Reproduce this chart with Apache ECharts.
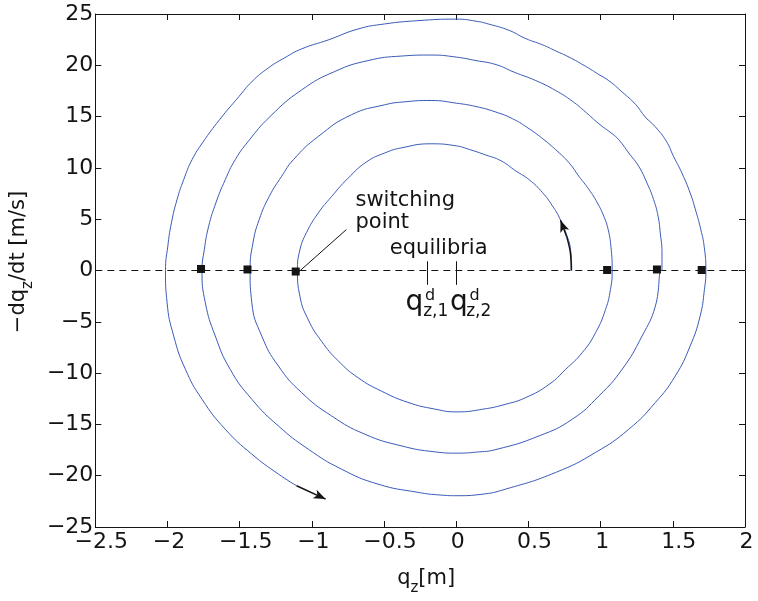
<!DOCTYPE html>
<html>
<head>
<meta charset="utf-8">
<script src="https://cdn.jsdelivr.net/npm/echarts@6/dist/echarts.min.js"></script>
<style>
  html, body { margin: 0; padding: 0; background: #ffffff; }
  #chart { width: 758px; height: 601px; }
</style>
</head>
<body>
<div id="chart"></div>
<script>
// Axis ticks
const xTicks = [-2.5, -2, -1.5, -1, -0.5, 0, 0.5, 1, 1.5, 2];
const yTicks = [-25, -20, -15, -10, -5, 0, 5, 10, 15, 20, 25];

// Phase trajectory, half-orbit by half-orbit: [q_z, -dq_z/dt]
// upper arcs run right -> left, lower arcs run left -> right
const upper1 = [
  [0.80, 0.0], [0.792, 2.0], [0.769, 3.3], [0.716, 5.1], [0.666, 6.3], [0.597, 7.6],
  [0.505, 8.85], [0.413, 9.7], [0.309, 10.7], [0.206, 11.25], [0.09, 11.8], [0.0, 12.15],
  [-0.174, 12.35], [-0.381, 11.95], [-0.496, 11.45], [-0.62, 10.6], [-0.749, 9.0],
  [-0.864, 7.2], [-0.956, 5.6], [-1.037, 3.7], [-1.083, 2.0], [-1.10, 0.0]
];
const lower1 = [
  [-1.10, 0.0], [-1.083, -2.5], [-1.025, -4.8], [-0.933, -6.9], [-0.818, -8.8],
  [-0.68, -10.45], [-0.519, -11.75], [-0.335, -12.85], [-0.151, -13.5], [0.006, -13.78],
  [0.183, -13.52], [0.344, -13.03], [0.482, -12.38], [0.643, -11.1], [0.758, -9.63],
  [0.873, -8.0], [0.965, -6.06], [1.034, -3.8], [1.068, -1.85], [1.08, 0.0]
];
const upper2 = [
  [1.08, 0.0], [1.071, 2.36], [1.052, 4.0], [1.022, 5.28], [0.977, 6.6], [0.919, 7.9],
  [0.85, 9.17], [0.781, 10.5], [0.689, 11.77], [0.608, 12.74], [0.505, 13.81], [0.39, 14.79],
  [0.275, 15.44], [0.137, 15.98], [0.0, 16.31], [-0.174, 16.57], [-0.35, 16.45], [-0.496, 16.15],
  [-0.726, 15.18], [-0.956, 13.06], [-1.128, 10.8], [-1.21, 9.17], [-1.295, 7.23],
  [-1.365, 4.96], [-1.408, 2.69], [-1.428, 0.0]
];
const lower2 = [
  [-1.428, 0.0], [-1.416, -3.14], [-1.347, -6.39], [-1.232, -9.31], [-1.071, -11.9],
  [-0.864, -14.17], [-0.634, -15.95], [-0.381, -17.09], [-0.151, -17.67], [0.006, -17.8],
  [0.14, -17.7], [0.275, -17.45], [0.574, -16.12], [0.804, -14.49], [0.988, -12.23], [1.149, -9.63],
  [1.287, -6.39], [1.379, -3.47], [1.42, 0.0]
];
const upper3 = [
  [1.425, 0.0], [1.425, 1.72], [1.413, 3.67], [1.398, 5.28], [1.367, 6.91], [1.321, 8.53],
  [1.264, 10.15], [1.195, 11.45], [1.126, 12.74], [1.08, 13.33], [0.988, 14.3], [0.896, 15.44],
  [0.804, 16.5], [0.689, 17.54], [0.551, 18.51], [0.401, 19.33], [0.275, 20.07], [0.137, 20.46],
  [0.0, 20.8], [-0.174, 21.0], [-0.381, 20.9], [-0.611, 20.46], [-0.841, 19.4], [-1.071, 17.6],
  [-1.29, 15.0], [-1.44, 12.6], [-1.531, 10.8], [-1.6, 8.85], [-1.665, 6.59],
  [-1.715, 4.31], [-1.745, 2.04], [-1.761, 0.0]
];
const lower3 = [
  [-1.761, 0.0], [-1.738, -3.14], [-1.669, -6.39], [-1.566, -9.63], [-1.416, -12.55],
  [-1.232, -15.15], [-1.025, -17.41], [-0.795, -19.36], [-0.542, -20.82], [-0.266, -21.62],
  [-0.105, -21.89], [0.006, -21.95], [0.171, -21.82], [0.344, -21.3], [0.689, -19.68],
  [0.965, -17.73], [1.195, -15.47], [1.379, -12.87], [1.517, -10.28], [1.62, -7.36],
  [1.689, -4.45], [1.719, -1.85], [1.729, 0.0]
];
const upper4 = [
  [1.729, 0.0], [1.717, 2.36], [1.694, 3.99], [1.66, 5.77], [1.62, 7.56], [1.563, 9.5],
  [1.505, 11.12], [1.455, 12.6], [1.379, 14.0], [1.31, 14.95], [1.241, 16.2], [1.149, 17.4],
  [1.057, 18.5], [0.988, 19.1], [0.896, 19.9], [0.781, 20.8], [0.689, 21.4], [0.597, 22.0],
  [0.482, 22.6], [0.367, 23.4], [0.229, 24.0], [0.137, 24.3], [0.0, 24.5], [-0.266, 24.35],
  [-0.496, 24.03], [-0.68, 23.54], [-0.887, 22.47], [-1.071, 21.6], [-1.186, 20.75],
  [-1.301, 19.75], [-1.416, 18.4], [-1.505, 16.96], [-1.64, 14.69], [-1.755, 12.5],
  [-1.83, 10.8], [-1.888, 8.85], [-1.934, 6.91], [-1.973, 4.64], [-1.998, 2.36], [-2.014, 0.0]
];
const lower4 = [
  [-2.014, 0.0], [-2.003, -3.14], [-1.957, -6.39], [-1.876, -9.63], [-1.761, -12.55],
  [-1.6, -15.47], [-1.416, -17.9], [-1.232, -19.84], [-1.106, -20.98]
];

// Switching points on the q_z axis
const switchingPoints = [
  [-1.112, -0.1], [-1.446, 0.1], [-1.768, 0.15], [1.045, 0.05], [1.39, 0.1], [1.70, 0.05]
];
// Equilibria q^d_{z,1}, q^d_{z,2}
const equilibria = [-0.2, 0.0];

// Direction arrows: shaft points and head segment
const startArrowShaft = [[0.797, 0.0], [0.79, 1.8], [0.765, 3.3]];
const startArrowHead = [[0.765, 3.3], [0.722, 4.9]];
const endArrow = [[-1.106, -20.98], [-0.905, -22.28]];

// Leader line from the "switching point" note to its marker
const leader = [[-0.761, 3.99], [-1.094, -0.17]];

const trajectory = [].concat(upper1, lower1, upper2, lower2, upper3, lower3, upper4, lower4);

const FONT = '"DejaVu Sans", "Liberation Sans", Arial, sans-serif';
const INK = '#141414';
const BLUE = '#3a5bb8';

const minus = v => (v < 0 ? '\u2212' + (-v) : String(v));

const axisLineStyle = { color: INK, width: 1 };

// rich styles for names with a lowered subscript
const nameRich = {
  n: { fontFamily: FONT, fontSize: 21, color: INK, lineHeight: 21, verticalAlign: 'top' },
  s: { fontFamily: FONT, fontSize: 15, color: INK, lineHeight: 28, verticalAlign: 'bottom' }
};

const chart = echarts.init(document.getElementById('chart'), null, { renderer: 'canvas' });

const textItem = (pos, text, opts) => ({
  value: pos,
  label: Object.assign({
    show: true,
    position: [0, 0],
    formatter: text,
    fontFamily: FONT,
    color: INK,
    textBorderWidth: 0
  }, opts)
});

const eqTextItems = [];
const eqIdx = ['1', '2'];
const qOffsets = [
  { q: -13, d: 2.8, s: -4.2 },
  { q: 2.7, d: 18.2, s: 9.9 }
];
equilibria.forEach((e, i) => {
  const o = qOffsets[i];
  eqTextItems.push(textItem([e, 0], 'q', { fontSize: 28, align: 'center', verticalAlign: 'middle', offset: [o.q, 32] }));
  eqTextItems.push(textItem([e, 0], 'd', { fontSize: 16, align: 'center', verticalAlign: 'middle', offset: [o.d, 25.5] }));
  eqTextItems.push(textItem([e, 0], 'z,' + eqIdx[i], { fontSize: 17, align: 'left', verticalAlign: 'middle', offset: [o.s, 41.5] }));
});

const option = {
  animation: false,
  backgroundColor: '#ffffff',
  grid: { left: 93, right: 13, top: 14, bottom: 73, containLabel: false },
  xAxis: [
    {
      type: 'value',
      position: 'bottom',
      min: xTicks[0],
      max: xTicks[xTicks.length - 1],
      interval: xTicks[1] - xTicks[0],
      axisLine: { show: true, onZero: false, lineStyle: axisLineStyle },
      axisTick: { show: true, inside: true, length: 6, lineStyle: axisLineStyle },
      splitLine: { show: false },
      axisLabel: {
        margin: 4,
        formatter: v => (Number.isInteger(v) ? '{i|' + minus(v) + '}' : '{d|' + minus(v) + '}'),
        rich: {
          i: { fontFamily: FONT, fontSize: 22, color: INK, lineHeight: 22, padding: [0, 0, 0, 3] },
          d: { fontFamily: FONT, fontSize: 22, color: INK, lineHeight: 22, padding: [0, 0, 0, 12] }
        }
      },
      name: '{n|q}{s|z}{n|[m]}',
      nameLocation: 'middle',
      nameGap: 41,
      nameTextStyle: { padding: [0, 0, 0, 12], rich: nameRich }
    },
    {
      type: 'value',
      position: 'top',
      min: xTicks[0],
      max: xTicks[xTicks.length - 1],
      interval: xTicks[1] - xTicks[0],
      axisLine: { show: true, onZero: false, lineStyle: axisLineStyle },
      axisTick: { show: true, inside: true, length: 6, lineStyle: axisLineStyle },
      axisLabel: { show: false },
      splitLine: { show: false }
    }
  ],
  yAxis: [
    {
      type: 'value',
      position: 'left',
      min: yTicks[0],
      max: yTicks[yTicks.length - 1],
      interval: yTicks[1] - yTicks[0],
      axisLine: { show: true, onZero: false, lineStyle: axisLineStyle },
      axisTick: { show: true, inside: true, length: 6, lineStyle: axisLineStyle },
      splitLine: { show: false },
      axisLabel: { margin: 2, fontFamily: FONT, fontSize: 22, color: INK, formatter: minus },
      name: '{n|\u2212dq}{s|z}{n|/dt [m/s]}',
      nameLocation: 'middle',
      nameGap: 52,
      nameTextStyle: { padding: [0, 0, 0, 17], rich: nameRich }
    },
    {
      type: 'value',
      position: 'right',
      min: yTicks[0],
      max: yTicks[yTicks.length - 1],
      interval: yTicks[1] - yTicks[0],
      axisLine: { show: true, onZero: false, lineStyle: axisLineStyle },
      axisTick: { show: true, inside: true, length: 6, lineStyle: axisLineStyle },
      axisLabel: { show: false },
      splitLine: { show: false }
    }
  ],
  series: [
    {
      name: 'zero',
      type: 'line',
      data: [[xTicks[0], 0], [xTicks[xTicks.length - 1], 0]],
      symbol: 'none',
      silent: true,
      lineStyle: { color: INK, width: 1, type: [7, 5] },
      z: 1
    },
    {
      name: 'trajectory',
      type: 'line',
      data: trajectory,
      symbol: 'none',
      smooth: 0.5,
      silent: true,
      lineStyle: { color: BLUE, width: 1 },
      z: 2
    },
    {
      name: 'equilibria',
      type: 'line',
      data: [],
      silent: true,
      markLine: {
        silent: true,
        symbol: ['none', 'none'],
        label: { show: false },
        lineStyle: { color: INK, width: 1, type: 'solid' },
        data: equilibria.map(e => [{ coord: [e, 0.9] }, { coord: [e, -1.4] }])
      },
      z: 3
    },
    {
      name: 'leader',
      type: 'line',
      data: leader,
      symbol: 'none',
      silent: true,
      lineStyle: { color: INK, width: 1 },
      z: 3
    },
    {
      name: 'arrows',
      type: 'line',
      data: startArrowShaft,
      symbol: 'none',
      smooth: 0.3,
      silent: true,
      lineStyle: { color: INK, width: 1.5 },
      markLine: {
        silent: true,
        symbol: ['none', 'arrow'],
        symbolSize: [7, 12],
        label: { show: false },
        lineStyle: { color: INK, width: 1.5, type: 'solid' },
        data: [
          [{ coord: startArrowHead[0] }, { coord: startArrowHead[1] }],
          [{ coord: endArrow[0] }, { coord: endArrow[1] }]
        ]
      },
      z: 4
    },
    {
      name: 'switching',
      type: 'scatter',
      data: switchingPoints,
      symbol: 'rect',
      symbolSize: 8,
      silent: true,
      itemStyle: { color: INK, opacity: 1 },
      z: 5
    },
    {
      name: 'notes',
      type: 'scatter',
      symbolSize: 0,
      silent: true,
      itemStyle: { color: INK, opacity: 1 },
      data: [
        textItem([-0.698, 7.88], 'switching\npoint', { fontSize: 21, lineHeight: 22, align: 'left', verticalAlign: 'top' }),
        textItem([-0.46, 2.17], 'equilibria', { fontSize: 21, align: 'left', verticalAlign: 'middle' })
      ].concat(eqTextItems),
      z: 6
    }
  ]
};

chart.setOption(option);
</script>
</body>
</html>
